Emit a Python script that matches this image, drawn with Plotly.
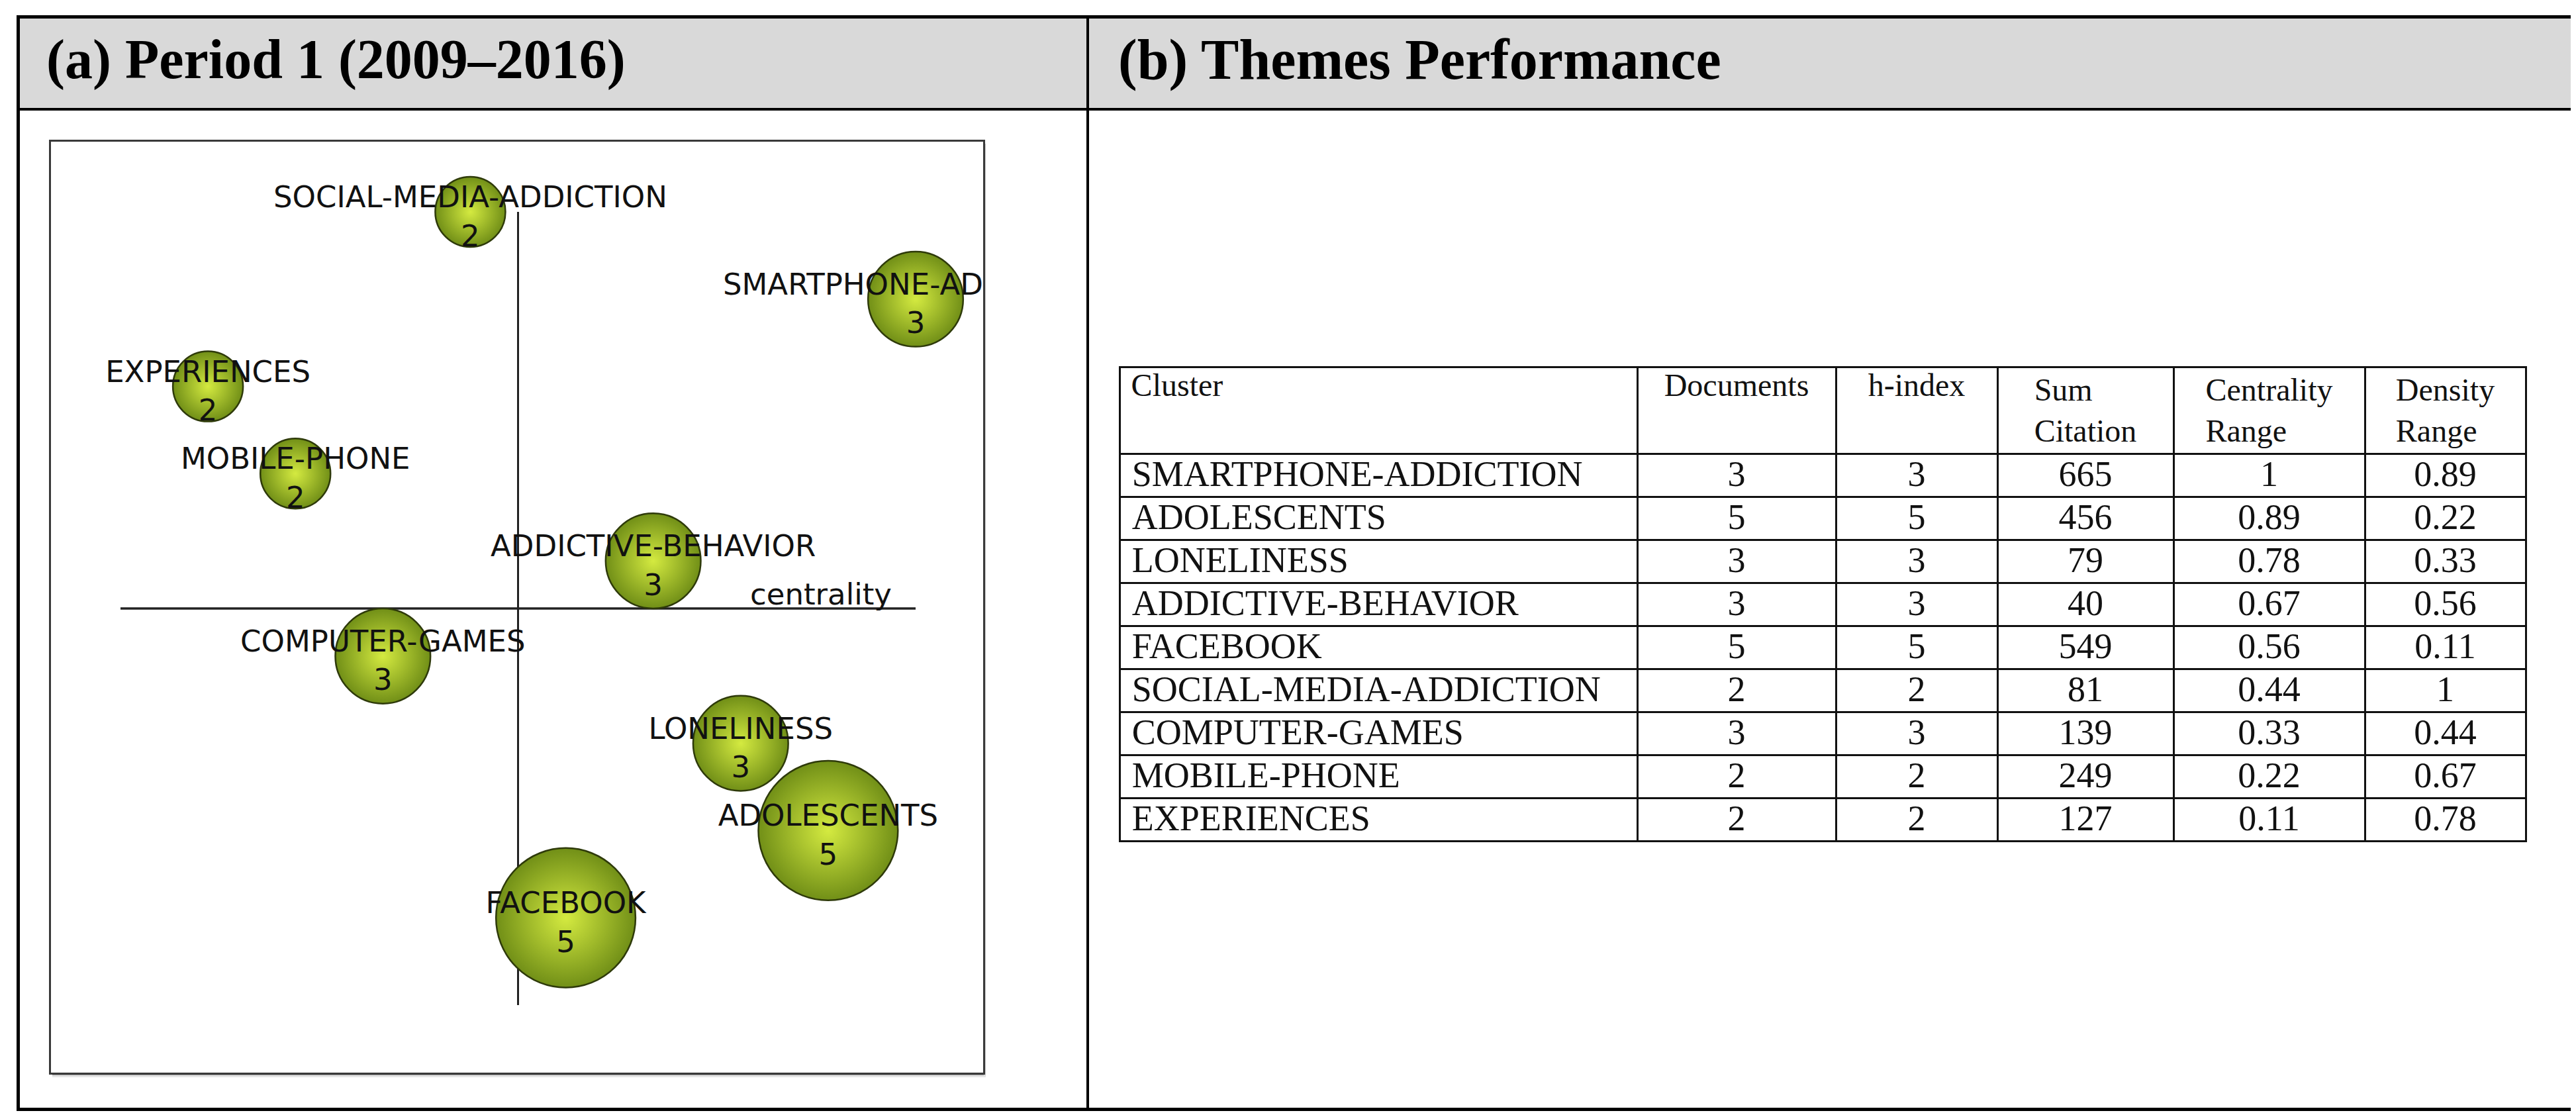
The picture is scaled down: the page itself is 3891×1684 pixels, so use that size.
import plotly.graph_objects as go

# ---------------- data ----------------
clusters = ["SMARTPHONE-ADDICTION", "ADOLESCENTS", "LONELINESS", "ADDICTIVE-BEHAVIOR",
            "FACEBOOK", "SOCIAL-MEDIA-ADDICTION", "COMPUTER-GAMES", "MOBILE-PHONE", "EXPERIENCES"]
documents = [3, 5, 3, 3, 5, 2, 3, 2, 2]
h_index = [3, 5, 3, 3, 5, 2, 3, 2, 2]
sum_citation = [665, 456, 79, 40, 549, 81, 139, 249, 127]
centrality_range = [1, 0.89, 0.78, 0.67, 0.56, 0.44, 0.33, 0.22, 0.11]
density_range = [0.89, 0.22, 0.33, 0.56, 0.11, 1, 0.44, 0.67, 0.78]
header_labels = ["Cluster", "Documents", "h-index", "Sum<br>Citation", "Centrality<br>Range", "Density<br>Range"]
title_a = "(a) Period 1 (2009\u20132016)"
title_b = "(b) Themes Performance"
axis_label = "centrality"

# ---------------- geometry helpers ----------------
W, H = 3891, 1684
def px(x):
    return x / W
def py(y):
    return 1 - y / H

fig = go.Figure()

# quadrant axes (through the middle of the ranges)
fig.add_trace(go.Scatter(x=[0.5, 0.5], y=[0, 1], mode="lines",
                         line=dict(color="#222222", width=3), hoverinfo="skip", showlegend=False))
fig.add_trace(go.Scatter(x=[0, 1], y=[0.5, 0.5], mode="lines",
                         line=dict(color="#222222", width=3.5), hoverinfo="skip", showlegend=False))

# bubbles (radial gradient: gradient.color is the centre colour)
sizes = [106 * (d / 2) ** 0.75 for d in documents]
fig.add_trace(go.Scatter(
    x=centrality_range, y=density_range, mode="markers",
    marker=dict(size=sizes, sizemode="diameter", color="#718F17",
                gradient=dict(type="radial", color="#D4EA40"),
                line=dict(color="#2E3A0A", width=2.5), opacity=1),
    hoverinfo="skip", showlegend=False))

# labels
text_offset = 11 / 1198
fig.add_trace(go.Scatter(
    x=centrality_range, y=[d - text_offset for d in density_range], mode="text",
    text=[f"{c}<br>{n}" for c, n in zip(clusters, documents)],
    textposition="middle center", cliponaxis=True,
    textfont=dict(family="DejaVu Sans", size=45, color="#111111"),
    hoverinfo="skip", showlegend=False))

fig.add_annotation(x=0.972, y=0.5, xref="x", yref="y", text=axis_label, showarrow=False,
                   xanchor="right", yanchor="bottom", yshift=-7,
                   font=dict(family="DejaVu Sans", size=45, color="#111111"))

x0p, x1p = 69, 1477
y0p, y1p = 206, 1612
def cx(p):
    return (p - 174) / 1201
def cy(p):
    return (1510 - p) / 1198

fig.update_layout(
    xaxis=dict(domain=[px(x0p), px(x1p)], range=[cx(x0p), cx(x1p)], visible=True,
               showgrid=False, zeroline=False, showticklabels=False, ticks="",
               showline=True, mirror=True, linecolor="#3a3a3a", linewidth=3),
    yaxis=dict(domain=[py(y1p), py(y0p)], range=[cy(y1p), cy(y0p)], visible=True,
               showgrid=False, zeroline=False, showticklabels=False, ticks="",
               showline=True, mirror=True, linecolor="#3a3a3a", linewidth=3),
)

# table
pad = "\u2009"
cluster_cells = [pad + c for c in clusters]
header_vals = [pad + header_labels[0]] + header_labels[1:]
fig.add_trace(go.Table(
    domain=dict(x=[px(1683), px(3808)], y=[py(1300), py(546)]),
    columnwidth=[782, 300, 244, 266, 289, 243],
    header=dict(values=header_vals, height=128,
                align=["left", "center", "center", "center", "center", "center"],
                line=dict(color="#111111", width=3), fill=dict(color="white"),
                font=dict(family="Liberation Serif", size=48, color="#111111")),
    cells=dict(values=[cluster_cells, documents, h_index, sum_citation, centrality_range, density_range],
               height=65,
               align=["left", "center", "center", "center", "center", "center"],
               line=dict(color="#111111", width=3), fill=dict(color="white"),
               font=dict(family="Liberation Serif", size=54, color="#111111")),
))

# frame
shapes = []
def rect(xa, xb, ya, yb, color, layer="above"):
    shapes.append(dict(type="rect", xref="paper", yref="paper", x0=px(xa), x1=px(xb),
                       y0=py(yb), y1=py(ya), fillcolor=color, line=dict(width=0), layer=layer))
rect(17, 3881, 17, 157, "#D9D9D9", layer="below")
rect(17, 3881, 15, 20, "black")
rect(17, 3881, 155, 159, "black")
rect(17, 3881, 1665, 1670, "black")
rect(17, 22, 15, 1670, "black")
rect(3876, 3881, 15, 1670, "black")
rect(1633, 1637, 15, 1670, "black")
# soft shadow under the diagram box
rect(x0p + 2, x1p + 3, y1p + 1, y1p + 4, "#9a9a9a", layer="below")
rect(x0p + 2, x1p + 4, y1p + 4, y1p + 7, "#e4e4e4", layer="below")
rect(x1p + 1, x1p + 4, y0p + 3, y1p + 4, "#cfcfcf", layer="below")

fig.update_layout(shapes=shapes)

fig.add_annotation(x=px(60), y=py(82), xref="paper", yref="paper", text=f"<b>{title_a}</b>",
                   showarrow=False, xanchor="left", yanchor="middle",
                   font=dict(family="Liberation Serif", size=84, color="black"))
fig.add_annotation(x=px(1679), y=py(82), xref="paper", yref="paper", text=f"<b>{title_b}</b>",
                   showarrow=False, xanchor="left", yanchor="middle",
                   font=dict(family="Liberation Serif", size=86, color="black"))

fig.update_layout(width=W, height=H, margin=dict(l=0, r=0, t=0, b=0),
                  paper_bgcolor="white", plot_bgcolor="white", showlegend=False)

fig.write_html("out.html")
